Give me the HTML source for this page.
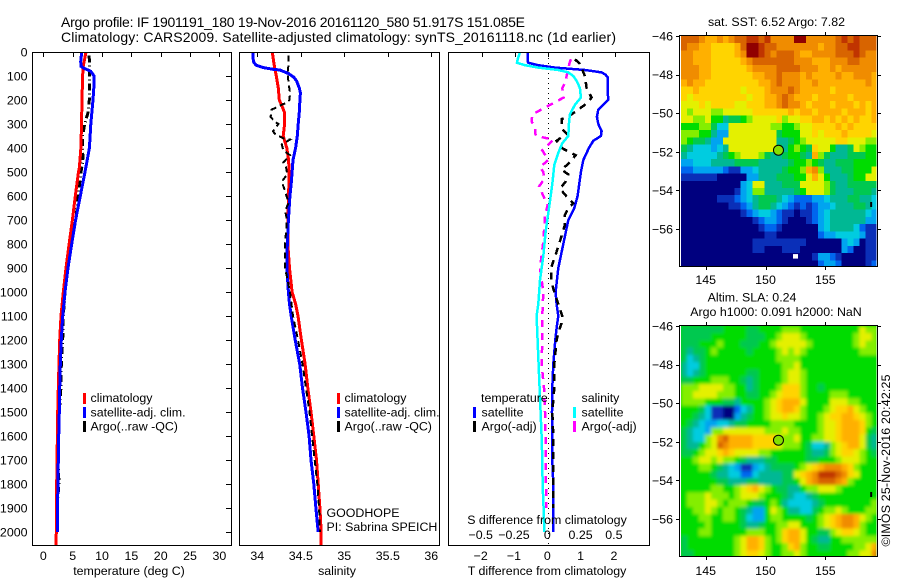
<!DOCTYPE html>
<html lang="en">
<head>
<meta charset="utf-8">
<title>Argo profile 1901191_180</title>
<style>
html,body{margin:0;padding:0;background:#fff;}
svg{display:block;font-family:"Liberation Sans",sans-serif;fill:#000;}
text{font-size:12.4px;fill:#000;}
.ttl{font-size:14px;}
</style>
</head>
<body>
<svg id="chart" width="900" height="580" viewBox="0 0 900 580" xmlns="http://www.w3.org/2000/svg">
<defs>
<filter id="soft" x="-3%" y="-3%" width="106%" height="106%"><feGaussianBlur stdDeviation="1.6"/></filter>
<clipPath id="clip-sst"><rect x="681" y="36" width="195.5" height="230"/></clipPath>
<clipPath id="clip-sla"><rect x="681" y="326" width="195.5" height="230"/></clipPath>
</defs>
<rect width="900" height="580" fill="#fff"/>
<text class="ttl" x="61" y="27" textLength="464">Argo profile: IF 1901191_180 19-Nov-2016 20161120_580 51.917S 151.085E</text>
<text class="ttl" x="61" y="42" textLength="555">Climatology: CARS2009. Satellite-adjusted climatology: synTS_20161118.nc (1d earlier)</text>

<g id="temp-series"></g>
<g id="sal-series"></g>
<g id="diff-series"></g>
<g id="ticks"></g>

<rect x="32.5" y="52.5" width="199" height="493" fill="none" stroke="#000" shape-rendering="crispEdges"/>
<rect x="239.5" y="52.5" width="200" height="493" fill="none" stroke="#000" shape-rendering="crispEdges"/>
<rect x="448.5" y="52.5" width="201" height="493" fill="none" stroke="#000" shape-rendering="crispEdges"/>

<text x="129" y="575" text-anchor="middle">temperature (deg C)</text>
<text x="337" y="575" text-anchor="middle">salinity</text>
<text x="547" y="575" text-anchor="middle">T difference from climatology</text>
<text x="547" y="524" text-anchor="middle">S difference from climatology</text>

<g>
<rect x="83" y="393" width="3" height="11" fill="#f00"/>
<rect x="83" y="407" width="3" height="11" fill="#00f"/>
<rect x="83" y="421" width="3" height="11" fill="#000"/>
<text x="90.5" y="402">climatology</text>
<text x="90.5" y="416.5">satellite-adj. clim.</text>
<text x="90.5" y="430.5">Argo(..raw -QC)</text>
</g>
<g>
<rect x="337" y="393" width="3" height="11" fill="#f00"/>
<rect x="337" y="407" width="3" height="11" fill="#00f"/>
<rect x="337" y="421" width="3" height="11" fill="#000"/>
<text x="344.5" y="402">climatology</text>
<text x="344.5" y="416.5">satellite-adj. clim.</text>
<text x="344.5" y="430.5">Argo(..raw -QC)</text>
<text x="326.5" y="517">GOODHOPE</text>
<text x="326.5" y="531">PI: Sabrina SPEICH</text>
</g>
<g>
<text x="481" y="402">temperature</text>
<text x="581.5" y="402">salinity</text>
<rect x="473" y="407" width="3" height="11" fill="#00f"/>
<rect x="473" y="421" width="3" height="11" fill="#000"/>
<rect x="573" y="407" width="3" height="11" fill="#0ff"/>
<rect x="573" y="421" width="3" height="11" fill="#f0f"/>
<text x="481.5" y="416.5">satellite</text>
<text x="481.5" y="430.5">Argo(-adj)</text>
<text x="581.5" y="416.5">satellite</text>
<text x="581.5" y="430.5">Argo(-adj)</text>
</g>

<text x="776.5" y="26" text-anchor="middle">sat. SST: 6.52 Argo: 7.82</text>
<g clip-path="url(#clip-sst)"><g id="sst-cells"></g></g>
<rect x="679.5" y="35.5" width="198" height="231" fill="none" stroke="#000" shape-rendering="crispEdges"/>

<text x="752" y="301.5" text-anchor="middle">Altim. SLA: 0.24</text>
<text x="776" y="316" text-anchor="middle">Argo h1000: 0.091 h2000: NaN</text>
<g clip-path="url(#clip-sla)">
<rect x="680" y="326" width="198" height="231" fill="#00dc00"/>
<g id="sla-cells" filter="url(#soft)"></g>
</g>
<rect x="679.5" y="325.5" width="198" height="231" fill="none" stroke="#000" shape-rendering="crispEdges"/>

<g id="map-extras"></g>
<g id="labels"></g>
<text transform="translate(890,546.5) rotate(-90)" textLength="172">©IMOS 25-Nov-2016 20:42:25</text>
</svg>

<script>
// ---- axis tick labels ----
const depthTicks = [0,100,200,300,400,500,600,700,800,900,1000,1100,1200,1300,1400,1500,1600,1700,1800,1900,2000];
const tempTicks = [0,5,10,15,20,25,30];
const salTicks = [34,34.5,35,35.5,36];
const tDiffTicks = [-2,-1,0,1,2];
const sDiffTicks = [-0.5,-0.25,0,0.25,0.5];
const lonTicks = [145,150,155];
const latTicks = [-46,-48,-50,-52,-54,-56];

// ---- temperature panel ----
const tClimDepth = [0,60,100,200,300,400,480,500,600,700,800,900,1000,1100,1200,1300,1400,1500,1600,1700,1800,1900,2000,2054];
const tClimVal = [7.27,6.8,6.7,6.6,6.5,6.4,6.15,6.0,5.45,4.95,4.4,3.87,3.4,3.02,2.79,2.68,2.56,2.45,2.4,2.33,2.28,2.28,2.22,2.17];
const tSatDepth = [0,40,60,70,80,100,150,200,300,400,500,600,700,800,900,1000,1100,1200,1300,1400,1500,1600,1700,1800,1900,2000];
const tSatVal = [6.54,6.37,6.43,7.1,8.07,8.65,8.6,8.46,8.1,7.85,7.1,6.3,5.5,4.83,4.2,3.7,3.3,3.07,2.9,2.79,2.73,2.62,2.56,2.5,2.4,2.4];
const tArgoDepth = [15,50,100,150,200,250,300,350,400,450,500,600,700,800,900,1000,1100,1200,1300,1400,1500,1600,1700,1800,1900,2000];
const tArgoVal = [7.78,7.9,7.9,7.84,7.84,7.65,7.05,6.7,6.65,6.8,6.4,5.95,5.56,4.45,4.0,3.7,3.4,3.3,3.07,3.0,2.73,2.62,2.5,2.67,2.3,2.3];

// ---- salinity panel ----
const sClimDepth = [0,50,100,150,200,222,250,300,350,400,450,500,600,700,800,900,1000,1050,1100,1200,1300,1400,1500,1600,1700,1800,1900,2000,2054];
const sClimVal = [34.172,34.192,34.218,34.241,34.253,34.28,34.31,34.314,34.298,34.339,34.36,34.365,34.36,34.35,34.35,34.37,34.4,34.44,34.468,34.507,34.55,34.58,34.617,34.65,34.68,34.7,34.72,34.735,34.735];
const sSatDepth = [0,40,55,65,72,75,90,105,120,150,170,200,250,300,350,400,450,500,550,600,700,800,900,1000,1050,1100,1200,1300,1400,1500,1600,1700,1800,1900,2000];
const sSatVal = [33.947,33.955,33.985,34.07,34.18,34.26,34.36,34.42,34.45,34.483,34.495,34.49,34.483,34.47,34.46,34.44,34.41,34.4,34.39,34.375,34.357,34.345,34.34,34.357,34.37,34.39,34.436,34.487,34.52,34.56,34.595,34.617,34.65,34.674,34.7];
const sArgoDepth = [15,60,100,130,170,200,210,240,270,290,300,330,340,360,365,385,410,430,460,480,510,540,580,630,660,700,800,900,1000,1100,1200,1300,1400,1500,1600,1700,1800,1900,2000];
const sArgoVal = [34.356,34.356,34.35,34.36,34.376,34.37,34.34,34.166,34.153,34.2,34.243,34.18,34.2,34.3,34.376,34.28,34.3,34.376,34.3,34.33,34.345,34.28,34.32,34.36,34.32,34.34,34.32,34.32,34.376,34.41,34.468,34.52,34.56,34.6,34.63,34.66,34.69,34.71,34.72];

// ---- difference panel (in T-axis units; S axis is 0.25 per T unit) ----
const dTSatDepth = [0,40,45,55,65,75,85,95,105,150,200,220,240,270,300,330,350,370,400,450,500,600,650,700,800,900,1000,1050,1100,1150,1200,1300,1400,1500,1600,1700,1800,1900,2000];
const dTSatVal = [-0.62,-0.62,-0.6,-0.3,0.2,1.1,1.6,1.72,1.78,1.78,1.8,1.65,1.5,1.46,1.5,1.6,1.58,1.35,1.22,1.05,0.98,0.88,0.78,0.6,0.45,0.3,0.22,0.25,0.3,0.25,0.21,0.15,0.12,0.11,0.12,0.12,0.15,0.15,0.15];
const dTArgoDepth = [30,50,100,150,190,220,260,280,320,340,370,400,430,460,490,510,540,570,610,630,650,680,720,780,840,900,950,1000,1050,1100,1130,1160,1200,1300,1400,1500,1600,1700,1800,1900];
const dTArgoVal = [0.8,0.95,1.1,1.15,1.3,1.1,0.7,0.4,0.4,0.55,0.25,0.4,0.82,0.65,0.4,0.6,0.52,0.35,0.6,0.75,0.6,0.5,0.5,0.37,0.23,0.08,0.08,0.18,0.3,0.42,0.4,0.32,0.25,0.18,0.18,0.12,0.15,0.15,0.15,0.15];
const dSSatDepth = [0,30,45,55,65,75,85,100,120,150,190,220,260,300,350,380,420,470,550,650,750,850,950,1050,1100,1200,1300,1400,1500,1600,1700,1800,1900,2000];
const dSSatVal = [-0.85,-0.92,-0.94,-0.7,-0.3,0.3,0.6,0.75,0.85,0.95,0.98,0.8,0.65,0.62,0.6,0.42,0.3,0.18,0.12,0.02,-0.08,-0.15,-0.25,-0.3,-0.35,-0.32,-0.29,-0.26,-0.23,-0.2,-0.18,-0.17,-0.14,-0.12];
const dSArgoDepth = [30,50,100,125,150,190,260,290,310,340,350,365,410,450,480,500,530,560,590,640,680,730,800,900,1000,1100,1200,1300,1400,1500,1600,1700,1800,1900];
const dSArgoVal = [0.68,0.63,0.55,0.52,0.42,0.46,-0.48,-0.5,-0.4,-0.4,-0.35,0.15,-0.18,0,-0.25,-0.15,-0.12,-0.28,-0.18,-0.02,-0.1,-0.12,-0.16,-0.25,-0.15,-0.18,-0.18,-0.2,-0.13,-0.1,-0.08,-0.08,-0.07,-0.07];

// ---- map values: one character per cell, 0 (cold/low) to f (warm/high) ----
const sstRows = [
"dddcb bcbcd deede ccccf fcccc cdede ddd",
"dccbb aaaab dffed dcccc cccbc cddee ddd",
"ccbbb aaaab cffed cdddc bbccc cddde dcc",
"ccbbb aaaaa bcddd ddddc ccbbb cccdd ccc",
"cccbb aaaaa abccc cdddd cccbb cbccc ccc",
"cccbb aaaaa aabbc cdccc bcbbb bcbbc ccb",
"bcbba aaaaa aaabb cdccc bbcbb bbbbb bcb",
"aabaa aaaaa 9aaab cccdc bbbbb abbbb bbb",
"a9aaa aaaaa a9aab bcdcb bbabb bbbab bbb",
"999a9 aaaa9 9aaab bcdcc babbb abbba bab",
"98999 88999 99aaa aaaba bbabb bbabb bab",
"99889 77566 78999 9a899 aabba babab aab",
"77788 64499 99999 88778 99aaa ababa aaa",
"88877 53399 99999 96777 99a9a aabaa aa9",
"87665 33999 99999 95567 89999 9aa99 988",
"65444 34599 99999 96578 76a99 75569 877",
"54444 45678 99986 55677 65b86 55566 677",
"33444 55556 66655 55567 78765 56667 777",
"22333 33211 33455 55677 8bc85 55667 779",
"11111 10000 03355 56667 79b97 55567 799",
"00000 00000 34995 55666 99998 65566 666",
"00000 00001 34885 55556 79998 65556 665",
"00000 01112 34566 65432 22334 55566 554",
"00000 00011 23566 54321 21233 45556 654",
"00000 00000 12344 32110 11234 55555 543",
"00000 00000 00123 32100 01234 55555 533",
"00000 00000 00012 21000 00034 55554 211",
"00000 00000 00001 10000 00023 34444 311",
"00000 00000 00111 11111 10000 00343 011",
"00000 00000 00110 00111 00000 00320 011",
"00000 00000 00000 00000 00133 21000 011",
"00000 00000 00000 00000 00023 32000 012"
];
const slaRows = [
"66666 66777 76677 77888 77777 77777 988",
"66666 77777 76667 78999 87777 77778 998",
"66677 78777 66677 89999 98777 77778 988",
"65667 87777 76777 78989 87777 77777 888",
"64567 77777 77777 78888 77777 77777 777",
"54467 77777 77777 77889 77777 77777 777",
"54567 77777 76677 77899 87777 77777 777",
"66777 88877 65677 77899 87777 77777 777",
"88899 99887 75677 78aaa 87767 77777 777",
"88999 98887 76677 89aaa 87777 88877 777",
"88887 77665 77778 9abbb 97777 99988 777",
"77764 11002 45778 9abba 87778 9aab9 877",
"77654 11003 56778 99a99 87789 aabba 987",
"76543 34456 67777 88887 77789 9abbb a87",
"65443 88999 99998 88988 77789 9abbb a76",
"65448 9cdbb bbaaa a9889 77889 9abbb 965",
"65578 9dcbb bbaaa a9888 76445 89abb 965",
"66789 9aba9 99988 77777 76556 89aa9 876",
"77899 89887 65556 67777 76677 78999 877",
"77788 76543 11345 66667 89abc ccba8 777",
"77777 65544 22455 55669 abcee edca9 777",
"77777 76655 56655 55667 9bcdd dcb87 777",
"77777 88778 9ab98 76655 78899 98777 777",
"78889 88878 99987 77654 45677 77777 777",
"78889 98788 87667 87544 44567 77777 778",
"77889 87887 65337 98755 44678 89877 788",
"77788 77887 64337 88777 76789 abccb 987",
"77778 77777 65567 78899 77789 abccb 877",
"77788 77777 78887 78abb 97766 89aa9 877",
"67777 77778 9bba8 78abb 97655 77888 888",
"67777 77778 9bba8 778ab 87766 77778 89b",
"66777 77778 9aa98 77889 87777 77788 99c"
];
const floatLon = 151.085;
const floatLat = -51.917;

// ---- colours and axis functions ----
const colorKey = {
  '0':'#00007f','1':'#0a2fb8','2':'#0066ee','3':'#00a4f0','4':'#00cce0','5':'#00b894',
  '6':'#00c850','7':'#00dc00','8':'#84ee00','9':'#e4f000','a':'#ffd400','b':'#ffb000',
  'c':'#f08c00','d':'#d86400','e':'#c03400','f':'#900000'
};
const NS = 'http://www.w3.org/2000/svg';
function depthY(d){ return 52 + d * 0.24; }
function tempX(t){ return 43.3 + t * 5.87; }
function salX(s){ return 257.3 + (s - 34) * 87; }
function tDiffX(v){ return 548.3 + v * 33.3; }
function sDiffX(v){ return 548.3 + v * 133.2; }
function lonX(l){ return 705.7 + (l - 145) * 11.96; }
function latYTop(la){ return 36 + (-46 - la) * 19.3; }
function latYBot(la){ return 326 + (-46 - la) * 19.3; }

function drawLine(parentId, name, depths, vals, xFn, color, width, dash){
  const el = document.createElementNS(NS, 'polyline');
  
  
  el.setAttribute('points', depths.map(function(d, i){ return xFn(vals[i]).toFixed(1) + ',' + depthY(d).toFixed(1); }).join(' '));
  el.setAttribute('fill', 'none');
  el.setAttribute('stroke', color);
  el.setAttribute('stroke-width', width);
  el.setAttribute('shape-rendering', 'crispEdges');
  if (dash) el.setAttribute('stroke-dasharray', dash);
  document.getElementById(parentId).appendChild(el);
}
function drawTick(name, x1, y1, x2, y2){
  const el = document.createElementNS(NS, 'line');
  
  
  el.setAttribute('x1', x1);
  el.setAttribute('y1', y1);
  el.setAttribute('x2', x2);
  el.setAttribute('y2', y2);
  el.setAttribute('stroke', '#000');
  el.setAttribute('shape-rendering', 'crispEdges');
  document.getElementById('ticks').appendChild(el);
}
function drawLabel(name, x, y, str, anchor){
  const el = document.createElementNS(NS, 'text');
  
  
  el.setAttribute('x', x);
  el.setAttribute('y', y);
  el.setAttribute('text-anchor', anchor);
  el.textContent = str;
  document.getElementById('labels').appendChild(el);
}
function signed(v){ return String(v).replace('-', '\u2212'); }

function drawMap(parentId, rows, yFn, name){
  const parent = document.getElementById(parentId);
  const lonStep = 16.4 / 33;
  const latStep = 12 / 32;
  rows.forEach(function(row, r){
    const cells = row.replace(/ /g, '');
    for (let c = 0; c < cells.length; c++){
      const lon = 142.95 + c * lonStep;
      const lat = -46 - r * latStep;
      const el = document.createElementNS(NS, 'rect');
      
      
      el.setAttribute('x', lonX(lon).toFixed(2));
      el.setAttribute('y', yFn(lat).toFixed(2));
      el.setAttribute('width', (lonStep * 11.96 + 0.4).toFixed(2));
      el.setAttribute('height', (latStep * 19.3 + 0.4).toFixed(2));
      el.setAttribute('fill', colorKey[cells[c]]);
      el.setAttribute('shape-rendering', 'crispEdges');
      parent.appendChild(el);
    }
  });
}

// ---- draw series ----
drawLine('temp-series', 'argo-temperature-line', tArgoDepth, tArgoVal, tempX, '#000', 3, '7 3 1 3');
drawLine('temp-series', 'climatology-temperature-line', tClimDepth, tClimVal, tempX, '#f00', 3);
drawLine('temp-series', 'satellite-temperature-line', tSatDepth, tSatVal, tempX, '#00f', 3);

drawLine('sal-series', 'climatology-salinity-line', sClimDepth, sClimVal, salX, '#f00', 3);
drawLine('sal-series', 'satellite-salinity-line', sSatDepth, sSatVal, salX, '#00f', 3);
drawLine('sal-series', 'argo-salinity-line', sArgoDepth, sArgoVal, salX, '#000', 2, '6 4');

const zeroLine = document.createElementNS(NS, 'line');


zeroLine.setAttribute('x1', tDiffX(0));
zeroLine.setAttribute('x2', tDiffX(0));
zeroLine.setAttribute('y1', 53);
zeroLine.setAttribute('y2', 545);
zeroLine.setAttribute('stroke', '#000');
zeroLine.setAttribute('stroke-dasharray', '1 4');
zeroLine.setAttribute('shape-rendering', 'crispEdges');
document.getElementById('diff-series').appendChild(zeroLine);
drawLine('diff-series', 'temperature-satellite-difference-line', dTSatDepth, dTSatVal, tDiffX, '#00f', 2.5);
drawLine('diff-series', 'temperature-argo-difference-line', dTArgoDepth, dTArgoVal, tDiffX, '#000', 2.5, '7 6');
drawLine('diff-series', 'salinity-argo-difference-line', dSArgoDepth, dSArgoVal, tDiffX, '#f0f', 2.5, '7 6');
drawLine('diff-series', 'salinity-satellite-difference-line', dSSatDepth, dSSatVal, tDiffX, '#0ff', 2.5);

// ---- draw ticks and labels ----
depthTicks.forEach(function(d){
  const y = Math.round(depthY(d)) + 0.5;
  drawTick('depth-tick', 226, y, 231, y);
  drawLabel('depth-tick-label', 27.5, depthY(d) + 4.5, String(d), 'end');
});
tempTicks.forEach(function(t){
  const x = Math.round(tempX(t)) + 0.5;
  drawTick('temperature-tick', x, 53, x, 57);
  drawLabel('temperature-tick-label', tempX(t), 560, String(t), 'middle');
});
salTicks.forEach(function(s){
  const x = Math.round(salX(s)) + 0.5;
  drawTick('salinity-tick', x, 53, x, 57);
  drawLabel('salinity-tick-label', salX(s), 560, String(s), 'middle');
});
tDiffTicks.forEach(function(v){
  const x = Math.round(tDiffX(v)) + 0.5;
  drawTick('t-difference-tick', x, 53, x, 57);
  drawLabel('t-difference-tick-label', tDiffX(v) - 1, 560, signed(v), 'middle');
});
sDiffTicks.forEach(function(v){
  drawLabel('s-difference-tick-label', sDiffX(v) - 1, 539, signed(v), 'middle');
});
lonTicks.forEach(function(l){
  const x = Math.round(lonX(l)) + 0.5;
  drawTick('longitude-tick', x, 32, x, 35);
  drawTick('longitude-tick', x, 267, x, 270);
  drawTick('longitude-tick', x, 322, x, 325);
  drawTick('longitude-tick', x, 557, x, 560);
  drawLabel('longitude-tick-label', lonX(l), 284, String(l), 'middle');
  drawLabel('longitude-tick-label', lonX(l), 575, String(l), 'middle');
});
latTicks.forEach(function(la){
  const y1 = Math.round(latYTop(la)) + 0.5;
  const y2 = Math.round(latYBot(la)) + 0.5;
  drawTick('latitude-tick', 676, y1, 679, y1);
  drawTick('latitude-tick', 878, y1, 881, y1);
  drawTick('latitude-tick', 676, y2, 679, y2);
  drawTick('latitude-tick', 878, y2, 881, y2);
  drawLabel('latitude-tick-label', 673, latYTop(la) + 4.5, signed(la), 'end');
  drawLabel('latitude-tick-label', 673, latYBot(la) + 4.5, signed(la), 'end');
});

// ---- draw maps ----
drawMap('sst-cells', sstRows, latYTop, 'sst-cell');
drawMap('sla-cells', slaRows, latYBot, 'sla-cell');

function drawFloat(yFn, name){
  const el = document.createElementNS(NS, 'circle');
  
  
  el.setAttribute('cx', lonX(floatLon));
  el.setAttribute('cy', yFn(floatLat));
  el.setAttribute('r', 5);
  el.setAttribute('fill', '#84e000');
  el.setAttribute('stroke', '#000');
  document.getElementById('map-extras').appendChild(el);
}
drawFloat(latYTop, 'sst-float-marker');
drawFloat(latYBot, 'sla-float-marker');

function drawMapPatch(name, lon, lat, yFn, w, h, color){
  const el = document.createElementNS(NS, 'rect');
  
  
  el.setAttribute('x', lonX(lon));
  el.setAttribute('y', yFn(lat));
  el.setAttribute('width', w);
  el.setAttribute('height', h);
  el.setAttribute('fill', color);
  document.getElementById('map-extras').appendChild(el);
}
drawMapPatch('sst-missing-cell', 152.3, -57.3, latYTop, 5, 4.5, '#fff');
drawMapPatch('sst-land-speck', 158.75, -54.6, latYTop, 2, 5, '#000');
drawMapPatch('sla-land-speck', 158.75, -54.6, latYBot, 2, 5, '#000');
</script>
</body>
</html>
